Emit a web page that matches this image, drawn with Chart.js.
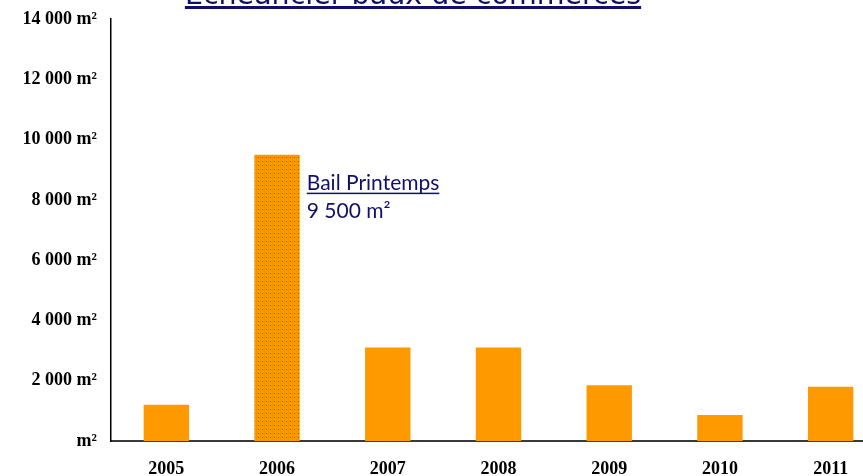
<!DOCTYPE html>
<html>
<head>
<meta charset="utf-8">
<script src="https://cdn.jsdelivr.net/npm/chart.js@4.4.1/dist/chart.umd.min.js"></script>
<style>
  html, body { margin: 0; padding: 0; background: #fff; overflow: hidden; }
  #wrap { width: 863px; height: 476px; overflow: hidden; }
</style>
</head>
<body>
<div id="wrap"><canvas id="bauxChart" width="890" height="476"></canvas></div>
<script>
var years = ["2005", "2006", "2007", "2008", "2009", "2010", "2011"];
var surfaces = [1200, 9500, 3100, 3100, 1850, 860, 1800];
var tickValues = [0, 2000, 4000, 6000, 8000, 10000, 12000, 14000];
var tickLabels = ["m²", "2 000 m²", "4 000 m²", "6 000 m²", "8 000 m²", "10 000 m²", "12 000 m²", "14 000 m²"];
var noteTitle = "Bail Printemps";
var noteIndex = 1;
var chartTitle = "Echéancier baux de commerces";

var orange = '#FF9900';
var navy = '#10106b';

// dotted fill for the highlighted year
function dottedPattern() {
  var c = document.createElement('canvas');
  c.width = 4; c.height = 4;
  var g = c.getContext('2d');
  g.fillStyle = orange;
  g.fillRect(0, 0, 4, 4);
  g.fillStyle = '#f58f00';
  g.fillRect(0, 0, 1, 4);
  g.fillStyle = '#80507a';
  g.fillRect(2, 1, 1, 1);
  return g.createPattern(c, 'repeat');
}

var colors = years.map(function (y, i) { return i === noteIndex ? dottedPattern() : orange; });

function fmt(n) {
  return String(n).replace(/\B(?=(\d{3})+(?!\d))/g, ' ') + ' m²';
}

var decorations = {
  id: 'decorations',
  afterDraw: function (chart) {
    var ctx = chart.ctx;
    ctx.save();
    // title, mostly cut off at the top
    ctx.font = '28.5px "DejaVu Sans"';
    ctx.fillStyle = navy;
    ctx.textBaseline = 'alphabetic';
    var w = ctx.measureText(chartTitle).width;
    var tx = 413 - w / 2;
    ctx.fillText(chartTitle, tx, 4);
    ctx.fillRect(tx, 6, w, 3);

    // note next to the highlighted bar
    var bar = chart.getDatasetMeta(0).data[noteIndex];
    var nx = bar.x + bar.width / 2 + 7;
    var ny = bar.y + 35;
    ctx.font = '21px Lato';
    ctx.fillText(noteTitle, nx, ny);
    var nw = ctx.measureText(noteTitle).width;
    ctx.fillRect(nx, ny + 3, nw, 1.5);
    ctx.fillText(fmt(surfaces[noteIndex]), nx, ny + 28);
    ctx.restore();
  }
};

new Chart("bauxChart", {
  type: "bar",
  data: {
    labels: years,
    datasets: [{
      data: surfaces,
      backgroundColor: colors,
      barPercentage: 0.41,
      categoryPercentage: 1
    }]
  },
  options: {
    responsive: false,
    animation: false,
    layout: { padding: { top: 19, right: 4, left: 0, bottom: 0 } },
    plugins: {
      legend: { display: false },
      tooltip: { enabled: false }
    },
    scales: {
      x: {
        grid: { display: false, drawTicks: false },
        border: { display: true, color: '#3a3a3a', width: 2 },
        ticks: {
          color: '#000',
          padding: 18,
          maxRotation: 0,
          font: { family: '"Liberation Serif"', size: 18, weight: 'bold' }
        },
        afterFit: function (s) { s.height = 35; s.paddingLeft = 0; s.paddingRight = 0; }
      },
      y: {
        min: 0,
        max: 14000,
        grid: { display: false, drawTicks: false },
        border: { display: true, color: '#000', width: 1.5 },
        afterBuildTicks: function (s) {
          s.ticks = tickValues.map(function (v) { return { value: v }; });
        },
        ticks: {
          color: '#000',
          padding: 14,
          font: { family: '"Liberation Serif"', size: 18, weight: 'bold' },
          callback: function (v) { return tickLabels[tickValues.indexOf(v)]; }
        },
        afterFit: function (s) { s.width = 111; s.paddingTop = 0; s.paddingBottom = 0; }
      }
    }
  },
  plugins: [decorations]
});
</script>
</body>
</html>
